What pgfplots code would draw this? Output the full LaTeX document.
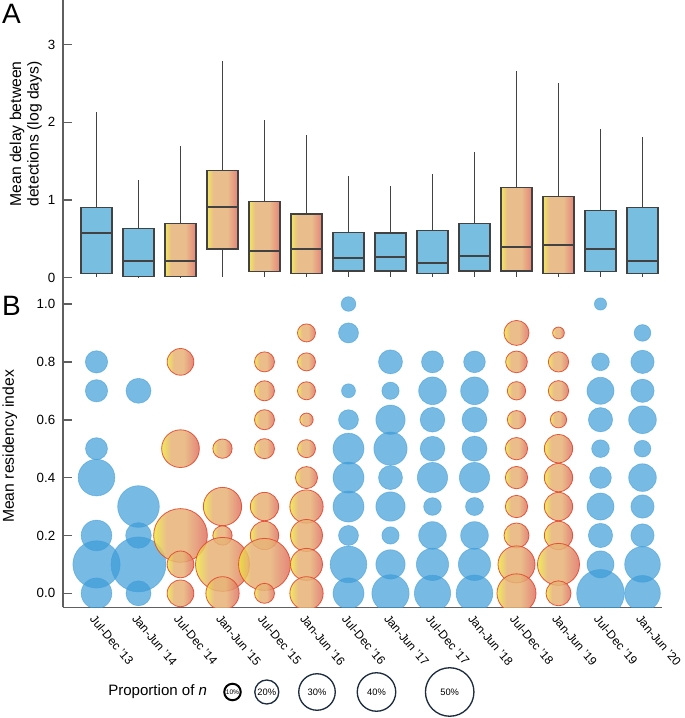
\documentclass[border=0pt]{standalone}
\usepackage{pgfplots}
\pgfplotsset{compat=1.18}
\usepackage{pgfplotstable}
\usepgfplotslibrary{statistics}
\usepackage{fontspec}
\setmainfont{Liberation Sans}

\definecolor{bblue}{RGB}{119,190,225}
\definecolor{bubblue}{RGB}{61,156,216}
\definecolor{dgray}{RGB}{66,66,66}
\definecolor{axgray}{RGB}{95,95,95}
\definecolor{gyel}{RGB}{242,232,92}
\definecolor{gtan}{RGB}{233,189,140}
\definecolor{gsal}{RGB}{229,130,120}
\definecolor{gyelb}{RGB}{238,230,60}
\definecolor{gtanb}{RGB}{230,178,118}
\definecolor{gsalb}{RGB}{224,112,98}
\definecolor{gred}{RGB}{226,72,48}
\definecolor{navy}{RGB}{28,44,62}

\pgfdeclarehorizontalshading{boxshade}{100bp}{color(0bp)=(gyel); color(25bp)=(gyel); color(35bp)=(gtan); color(58bp)=(gtan); color(75bp)=(gsal); color(100bp)=(gsal)}
\pgfdeclarehorizontalshading{bubshade}{100bp}{color(0bp)=(gyelb); color(25bp)=(gyelb); color(37bp)=(gtanb); color(55bp)=(gtanb); color(75bp)=(gsalb); color(100bp)=(gsalb)}

\pgfdeclareplotmark{gcirc}{%
  \pgfpathcircle{\pgfpointorigin}{\pgfplotmarksize}%
  \pgfshadepath{bubshade}{0}%
  \pgfusepath{discard}%
  \pgfpathcircle{\pgfpointorigin}{\pgfplotmarksize}%
  \pgfusepath{stroke}%
}

\pgfplotsset{
  /pgf/number format/assume math mode=true,
  every tick label/.append style={font=\fontsize{10}{12}\selectfont},
  bluebox/.style={draw=dgray, line width=0.9pt, fill=bblue},
  gradbox/.style={draw=dgray, line width=0.9pt},
}

% bubble diameters (px at reference scale) by period index and residency index
\pgfplotstableread{
x y d
0 0.8 22.3
0 0.7 22.3
0 0.5 22
0 0.4 36.7
0 0.2 30.7
0 0.1 47.3
0 0.0 30.7
1 0.7 25
1 0.3 41.7
1 0.2 25.7
1 0.1 55
1 0.0 25
6 1.0 14.7
6 0.9 20
6 0.7 14
6 0.6 20
6 0.5 31
6 0.4 31
6 0.3 31
6 0.2 20
6 0.1 36.7
6 0.0 31
7 0.8 24
7 0.7 17.3
7 0.6 29.3
7 0.5 33.3
7 0.4 24
7 0.3 29.3
7 0.2 17.3
7 0.1 29.3
7 0.0 37.3
8 0.8 22
8 0.7 27.7
8 0.6 24.7
8 0.5 24.7
8 0.4 30.3
8 0.3 17.7
8 0.2 27.7
8 0.1 32.3
8 0.0 36.3
9 0.8 21.7
9 0.7 27.7
9 0.6 25
9 0.5 25
9 0.4 30.3
9 0.3 18
9 0.2 27.7
9 0.1 32.3
9 0.0 36.7
12 1.0 12.3
12 0.8 17.7
12 0.7 27
12 0.6 24.3
12 0.5 17.7
12 0.4 21.7
12 0.3 27
12 0.2 24.3
12 0.1 27
12 0.0 47.7
13 0.9 16.7
13 0.8 23.3
13 0.7 23.3
13 0.6 27.7
13 0.5 16.7
13 0.4 27.7
13 0.3 23.3
13 0.2 23.3
13 0.1 35.7
13 0.0 35.7
}\bluebub

\pgfplotstableread{
x y d
2 0.8 26.7
2 0.5 37.7
2 0.2 53.7
2 0.1 26.7
2 0.0 26.7
3 0.5 19.3
3 0.3 38.3
3 0.2 19.3
3 0.1 54
3 0.0 33.3
4 0.8 20
4 0.7 20
4 0.6 20
4 0.5 20
4 0.3 28.3
4 0.2 28.3
4 0.1 52
4 0.0 20
5 0.9 18
5 0.8 18
5 0.7 18
5 0.6 13.3
5 0.5 18
5 0.4 22
5 0.3 33.3
5 0.2 32
5 0.1 32
5 0.0 33.3
10 0.9 25
10 0.8 21.7
10 0.7 18.3
10 0.6 18.3
10 0.5 22.3
10 0.4 22.3
10 0.3 22.3
10 0.2 25
10 0.1 37
10 0.0 39
11 0.9 11.7
11 0.8 20.3
11 0.7 20.3
11 0.6 16.3
11 0.5 28.3
11 0.4 28.3
11 0.3 28.3
11 0.2 28.3
11 0.1 42
11 0.0 25
}\gradbub

\pgfplotstableread{
x y d p
232.5 -692 16.5 10
}\legA
\pgfplotstableread{
x y d p
266.8 -692 24 20
317 -692 36.5 30
376.5 -692 38.5 40
449.7 -692 48.5 50
}\legB

\begin{document}
\begin{tikzpicture}
\useasboundingbox (0,0) rectangle (513.75pt,538.5pt);

% ---------------- Panel A ----------------
\begin{axis}[
  at={(47.25pt,322.5pt)}, anchor=south west,
  scale only axis, width=449.25pt, height=216pt,
  xmin=-0.7976, xmax=13.4643, ymin=-0.133, ymax=3.575,
  axis x line=none, axis y line=left,
  y axis line style={-, draw=axgray, line width=1.2pt},
  ytick={0,1,2,3}, xtick=\empty,
  tick align=inside, major tick length=7pt,
  ytick style={draw=axgray, line width=1.2pt},
  yticklabel style={xshift=-2.3pt},
  ylabel={Mean delay between\\detections (log days)},
  ylabel style={align=center, font=\fontsize{11.8}{13.2}\selectfont, at={(axis description cs:-0.062,0.535)}, anchor=center},
  boxplot/draw direction=y,
  boxplot/box extend=0.74, boxplot/whisker extend=0,
  boxplot/every whisker/.style={draw=dgray, line width=0.8pt},
  boxplot/every median/.style={draw=dgray, line width=1.4pt},
]
\addplot[bluebox, boxplot prepared={draw position=0, lower whisker=0.01, lower quartile=0.05, median=0.57, upper quartile=0.905, upper whisker=2.13}] coordinates {};
\addplot[bluebox, boxplot prepared={draw position=1, lower whisker=0.0, lower quartile=0.02, median=0.22, upper quartile=0.63, upper whisker=1.26}] coordinates {};
\addplot[gradbox, boxplot prepared={draw position=2, lower whisker=0.0, lower quartile=0.02, median=0.22, upper quartile=0.70, upper whisker=1.70, every box/.style={shade, shading=boxshade}}] coordinates {};
\addplot[gradbox, boxplot prepared={draw position=3, lower whisker=0.01, lower quartile=0.37, median=0.91, upper quartile=1.38, upper whisker=2.79, every box/.style={shade, shading=boxshade}}] coordinates {};
\addplot[gradbox, boxplot prepared={draw position=4, lower whisker=0.01, lower quartile=0.08, median=0.34, upper quartile=0.98, upper whisker=2.03, every box/.style={shade, shading=boxshade}}] coordinates {};
\addplot[gradbox, boxplot prepared={draw position=5, lower whisker=0.01, lower quartile=0.05, median=0.37, upper quartile=0.82, upper whisker=1.84, every box/.style={shade, shading=boxshade}}] coordinates {};
\addplot[bluebox, boxplot prepared={draw position=6, lower whisker=0.01, lower quartile=0.086, median=0.25, upper quartile=0.58, upper whisker=1.31}] coordinates {};
\addplot[bluebox, boxplot prepared={draw position=7, lower whisker=0.01, lower quartile=0.086, median=0.27, upper quartile=0.575, upper whisker=1.18}] coordinates {};
\addplot[bluebox, boxplot prepared={draw position=8, lower whisker=0.01, lower quartile=0.05, median=0.19, upper quartile=0.61, upper whisker=1.33}] coordinates {};
\addplot[bluebox, boxplot prepared={draw position=9, lower whisker=0.01, lower quartile=0.086, median=0.28, upper quartile=0.70, upper whisker=1.62}] coordinates {};
\addplot[gradbox, boxplot prepared={draw position=10, lower whisker=0.01, lower quartile=0.086, median=0.39, upper quartile=1.16, upper whisker=2.66, every box/.style={shade, shading=boxshade}}] coordinates {};
\addplot[gradbox, boxplot prepared={draw position=11, lower whisker=0.01, lower quartile=0.05, median=0.42, upper quartile=1.04, upper whisker=2.50, every box/.style={shade, shading=boxshade}}] coordinates {};
\addplot[bluebox, boxplot prepared={draw position=12, lower whisker=0.01, lower quartile=0.08, median=0.37, upper quartile=0.86, upper whisker=1.92}] coordinates {};
\addplot[bluebox, boxplot prepared={draw position=13, lower whisker=0.01, lower quartile=0.05, median=0.21, upper quartile=0.90, upper whisker=1.81}] coordinates {};
\end{axis}

% ---------------- Panel B ----------------
\begin{axis}[
  at={(47.25pt,83.0pt)}, anchor=south west,
  scale only axis, width=449.25pt, height=239.5pt,
  xmin=-0.7976, xmax=13.4643, ymin=-0.0484, ymax=1.0553,
  axis lines=left, axis line style={-, draw=axgray, line width=1.2pt},
  ytick={0,0.2,0.4,0.6,0.8,1},
  yticklabel style={/pgf/number format/fixed, /pgf/number format/fixed zerofill, /pgf/number format/precision=1, xshift=-2.3pt},
  xtick={0,...,13},
  xticklabels={Jul-Dec '13, Jan-Jun '14, Jul-Dec '14, Jan-Jun '15, Jul-Dec '15, Jan-Jun '16, Jul-Dec '16, Jan-Jun '17, Jul-Dec '17, Jan-Jun '18, Jul-Dec '18, Jan-Jun '19, Jul-Dec '19, Jan-Jun '20},
  xticklabel style={rotate=-50, anchor=north west, font=\fontsize{9}{10}\selectfont},
  xtick style={draw=none},
  tick align=inside, major tick length=7pt,
  ytick style={draw=axgray, line width=1.2pt},
  clip marker paths=true,
  ylabel={Mean residency index},
  ylabel style={font=\fontsize{11.8}{12.6}\selectfont, at={(axis description cs:-0.089,0.504)}, anchor=center},
]
\addplot[scatter, only marks, mark=*,
  scatter/use mapped color={draw=bubblue, fill=bubblue},
  visualization depends on={\thisrow{d}\as\dsize},
  scatter/@pre marker code/.append style={/tikz/mark size=0.375pt*\dsize},
  mark options={fill opacity=0.7, draw opacity=0.55, line width=0.5pt},
] table[x=x, y=y] {\bluebub};
\addplot[scatter, only marks, mark=gcirc,
  scatter/use mapped color={draw=gred},
  visualization depends on={\thisrow{d}\as\dsize},
  scatter/@pre marker code/.append style={/tikz/mark size=0.375pt*\dsize},
  mark options={fill opacity=0.85, draw opacity=0.9, line width=0.6pt},
] table[x=x, y=y] {\gradbub};
\end{axis}

% ---------------- Overlay: panel letters and size legend ----------------
\begin{axis}[
  at={(0pt,0pt)}, anchor=south west, scale only axis,
  width=513.75pt, height=538.5pt,
  xmin=0, xmax=685, ymin=-718, ymax=0,
  hide axis, clip=false,
]
\node[font=\fontsize{21}{21}\selectfont, inner sep=0pt, anchor=center] at (axis cs:11.5,-14) {A};
\node[font=\fontsize{21}{21}\selectfont, inner sep=0pt, anchor=center] at (axis cs:11.5,-306) {B};
\node[font=\fontsize{11.3}{13}\selectfont, inner sep=0pt, anchor=base west] at (axis cs:108,-696) {Proportion of \textit{n}};
% legend circles
\addplot[scatter, only marks, mark=o,
  scatter/use mapped color={draw=black},
  visualization depends on={\thisrow{d}\as\dsize},
  scatter/@pre marker code/.append style={/tikz/mark size=0.375pt*\dsize},
  mark options={line width=1.5pt},
] table[x=x, y=y] {\legA};
\addplot[scatter, only marks, mark=o,
  scatter/use mapped color={draw=navy},
  visualization depends on={\thisrow{d}\as\dsize},
  scatter/@pre marker code/.append style={/tikz/mark size=0.375pt*\dsize},
  mark options={line width=1pt},
] table[x=x, y=y] {\legB};
% legend labels
\addplot[only marks, mark=none, point meta=explicit,
  nodes near coords={\pgfmathprintnumber{\pgfplotspointmeta}\%},
  every node near coord/.append style={anchor=center, font=\fontsize{5}{5}\selectfont, inner sep=0pt, text=black},
] table[x=x, y=y, meta=p] {\legA};
\addplot[only marks, mark=none, point meta=explicit,
  nodes near coords={\pgfmathprintnumber{\pgfplotspointmeta}\%},
  every node near coord/.append style={anchor=center, font=\fontsize{7}{7}\selectfont, inner sep=0pt, text=black},
] table[x=x, y=y, meta=p] {\legB};
\end{axis}
\end{tikzpicture}
\end{document}
